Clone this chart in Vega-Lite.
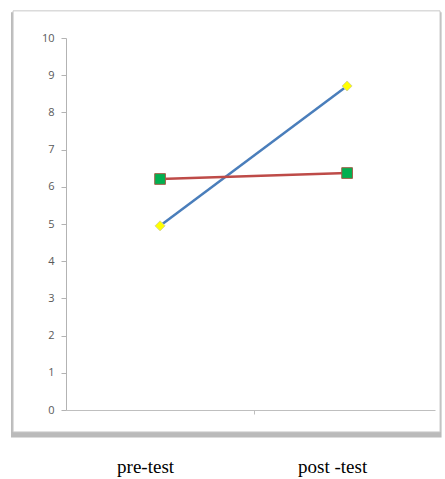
{
  "$schema": "https://vega.github.io/schema/vega-lite/v6.json",
  "width": 369,
  "height": 372,
  "autosize": {"type": "none"},
  "padding": {"left": 66, "top": 38, "right": 10, "bottom": 69},
  "background": "white",
  "config": {"view": {"stroke": null}, "axis": {"labelOverlap": false}, "axisY": {"tickCount": 11, "labelOverlap": false}},
  "datasets": {
    "scores": [
      {"series": "A", "test": 1, "score": 4.95},
      {"series": "A", "test": 2, "score": 8.71},
      {"series": "B", "test": 1, "score": 6.21},
      {"series": "B", "test": 2, "score": 6.37}
    ],
    "frame": [
      {"part": "shadow", "x1": 0.203, "x2": 2.505, "y1": -0.74, "y2": 10.69},
      {"part": "box", "x1": 0.214, "x2": 2.497, "y1": -0.59, "y2": 10.73}
    ]
  },
  "layer": [
    {
      "data": {"name": "frame"},
      "transform": [{"filter": "datum.part === 'shadow'"}],
      "mark": {"type": "rect", "fill": "#8c8c8c", "opacity": 0.6},
      "encoding": {
        "x": {
          "field": "x1", "type": "quantitative", "title": null,
          "scale": {"domain": [0.497, 2.47], "nice": false, "zero": false},
          "axis": {
            "zindex": 1,
            "values": [1, 1.5, 2],
            "grid": false,
            "domainColor": "#bfbfbf",
            "tickColor": {"condition": {"test": "datum.value === 1.5", "value": "#bfbfbf"}, "value": "transparent"},
            "tickSize": 4,
            "labelExpr": "datum.value === 1 ? 'pre-test' : datum.value === 2 ? 'post -test' : ''",
            "labelFont": "Liberation Serif",
            "labelFontSize": 19,
            "labelColor": "black",
            "labelOverlap": false,
            "labelPadding": 43,
            "labelOffset": -15
          }
        },
        "x2": {"field": "x2"},
        "y": {
          "field": "y1", "type": "quantitative", "title": null,
          "scale": {"domain": [0, 10], "nice": false},
          "axis": {
            "zindex": 1,
            "values": [0, 1, 2, 3, 4, 5, 6, 7, 8, 9, 10],
            "tickCount": 11,
            "labelExpr": "datum.value",
            "grid": false,
            "domainColor": "#b3b3b3",
            "tickColor": "#b3b3b3",
            "tickSize": 5,
            "labelPadding": 7,
            "labelOverlap": false,
            "labelFont": "Open Sans",
            "labelFontSize": 11,
            "labelColor": "#595959"
          }
        },
        "y2": {"field": "y2"}
      }
    },
    {
      "data": {"name": "frame"},
      "transform": [{"filter": "datum.part === 'box'"}],
      "mark": {"type": "rect", "fill": "white", "stroke": "#c8c8c8", "strokeWidth": 1},
      "encoding": {
        "x": {"field": "x1", "type": "quantitative"},
        "x2": {"field": "x2"},
        "y": {"field": "y1", "type": "quantitative"},
        "y2": {"field": "y2"}
      }
    },
    {
      "data": {"name": "scores"},
      "mark": {"type": "line", "strokeWidth": 2.5},
      "encoding": {
        "x": {"field": "test", "type": "quantitative"},
        "y": {"field": "score", "type": "quantitative"},
        "color": {"field": "series", "type": "nominal", "legend": null, "scale": {"domain": ["A", "B"], "range": ["#4a7ebb", "#be4b48"]}}
      }
    },
    {
      "data": {"name": "scores"},
      "transform": [{"filter": "datum.series === 'A'"}],
      "mark": {"type": "point", "shape": "diamond", "filled": true, "fill": "#ffff00", "stroke": "#d8d890", "strokeWidth": 1, "size": 100, "opacity": 1},
      "encoding": {
        "x": {"field": "test", "type": "quantitative"},
        "y": {"field": "score", "type": "quantitative"}
      }
    },
    {
      "data": {"name": "scores"},
      "transform": [{"filter": "datum.series === 'B'"}],
      "mark": {"type": "point", "shape": "square", "filled": true, "fill": "#00b050", "stroke": "#a0604a", "strokeWidth": 1, "size": 115, "opacity": 1},
      "encoding": {
        "x": {"field": "test", "type": "quantitative"},
        "y": {"field": "score", "type": "quantitative"}
      }
    }
  ]
}
